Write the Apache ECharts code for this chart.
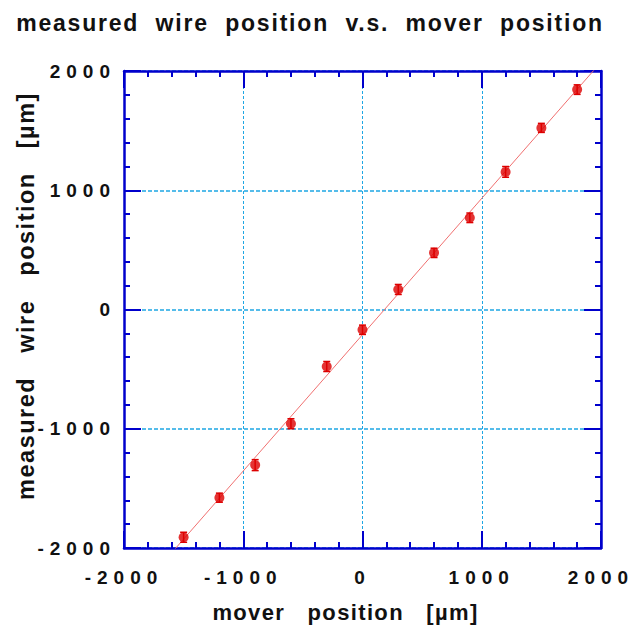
<!DOCTYPE html>
<html>
<head>
<meta charset="utf-8">
<script src="https://cdn.jsdelivr.net/npm/echarts@6/dist/echarts.min.js"></script>
<style>
  html, body { margin: 0; padding: 0; background: #fff; }
  #chart { width: 636px; height: 631px; }
  /* spaced-out lettering like the original plot (picked by font size) */
  #chart text[style*="23px"] { letter-spacing: 1.8px; }
  #chart text[style*="23.5px"] { letter-spacing: 1.5px; }
  #chart text[style*="22px"] { letter-spacing: 1.35px; }
  #chart text[style*="19px"] { letter-spacing: 6px; }
</style>
</head>
<body>
<div id="chart"></div>
<script>
// mover position [um]
const moverPos = [-1500, -1200, -900, -600, -300, 0, 300, 600, 900, 1200, 1500, 1800];
// measured wire position [um]
const wirePos = [-1910, -1578, -1305, -958, -478, -170, 168, 475, 769, 1154, 1523, 1844];
// error bar half-size [um]
const wireErr = [42, 38, 46, 42, 42, 39, 42, 39, 40, 45, 38, 40];
// straight-line fit as drawn
const fitSlope = 1.143;
const fitIntercept = -211;
const axisMin = -2000;
const axisMax = 2000;
const axisStep = 1000;

const blue = "#0000cc";
const red = "#dd0000";
const gridBlue = "#1ea7e4";
const textFont = "Liberation Sans";

const chart = echarts.init(document.getElementById("chart"), null, { renderer: "svg" });

function frameAxis(position, withLabels) {
  return {
    type: "value",
    position: position,
    min: axisMin,
    max: axisMax,
    interval: axisStep,
    axisLine: { show: true, onZero: false, lineStyle: { color: blue, width: 2.5 } },
    axisTick: { show: true, inside: true, length: 17, lineStyle: { color: blue, width: 2 } },
    minorTick: { show: true, splitNumber: 5, length: 6, lineStyle: { color: blue, width: 2 } },
    axisLabel: {
      show: withLabels,
      color: "#111",
      fontSize: 19,
      fontWeight: "bold",
      fontFamily: textFont,
      formatter: (v) => String(v),
    },
    splitLine: { show: false },
  };
}

const xMain = frameAxis("bottom", true);
xMain.axisLabel.margin = 20;
xMain.splitLine = { show: true, lineStyle: { color: gridBlue, type: [3, 2], width: 1 } };
xMain.name = "mover   position   [µm]";
xMain.nameLocation = "middle";
xMain.nameGap = 53;
xMain.nameTextStyle = {
  color: "#111",
  fontSize: 22,
  fontWeight: "bold",
  fontFamily: textFont,
  padding: [0, 34, 0, 0],
};

const yMain = frameAxis("left", true);
yMain.axisLabel.margin = 8;
yMain.splitLine = { show: true, lineStyle: { color: gridBlue, type: [4, 2], width: 1.6 } };

const fitLine = [axisMin, axisMax].map((x) => [x, fitSlope * x + fitIntercept]);

chart.setOption({
  backgroundColor: "#fff",
  animation: false,
  title: {
    text: "measured  wire  position  v.s.  mover  position",
    left: 305,
    top: 6,
    textAlign: "center",
    textStyle: { color: "#111", fontSize: 23, fontWeight: "bold", fontFamily: textFont },
  },
  graphic: [
    {
      type: "text",
      x: 26,
      y: 296,
      rotation: Math.PI / 2,
      style: {
        text: "measured   wire   position   [µm]",
        fill: "#111",
        font: "bold 23.5px 'Liberation Sans'",
        textAlign: "center",
        textVerticalAlign: "middle",
      },
    },
  ],
  grid: { left: 124, right: 35, top: 71, bottom: 83 },
  xAxis: [xMain, frameAxis("top", false)],
  yAxis: [yMain, frameAxis("right", false)],
  series: [
    {
      type: "line",
      data: fitLine,
      symbol: "none",
      clip: true,
      silent: true,
      lineStyle: { color: "#f07070", width: 1 },
      z: 2,
    },
    {
      type: "custom",
      data: moverPos.map((x, i) => [x, wirePos[i] - wireErr[i], wirePos[i] + wireErr[i]]),
      encode: { x: 0, y: [1, 2] },
      z: 3,
      renderItem(params, api) {
        const lo = api.coord([api.value(0), api.value(1)]);
        const hi = api.coord([api.value(0), api.value(2)]);
        const cap = 3.5;
        const style = { stroke: red, lineWidth: 1.5 };
        return {
          type: "group",
          children: [
            { type: "line", shape: { x1: lo[0], y1: lo[1], x2: hi[0], y2: hi[1] }, style },
            { type: "line", shape: { x1: lo[0] - cap, y1: lo[1], x2: lo[0] + cap, y2: lo[1] }, style },
            { type: "line", shape: { x1: hi[0] - cap, y1: hi[1], x2: hi[0] + cap, y2: hi[1] }, style },
          ],
        };
      },
    },
    {
      type: "scatter",
      data: moverPos.map((x, i) => [x, wirePos[i]]),
      symbol: "circle",
      symbolSize: 10,
      itemStyle: { color: red },
      z: 4,
    },
  ],
});
</script>
</body>
</html>
